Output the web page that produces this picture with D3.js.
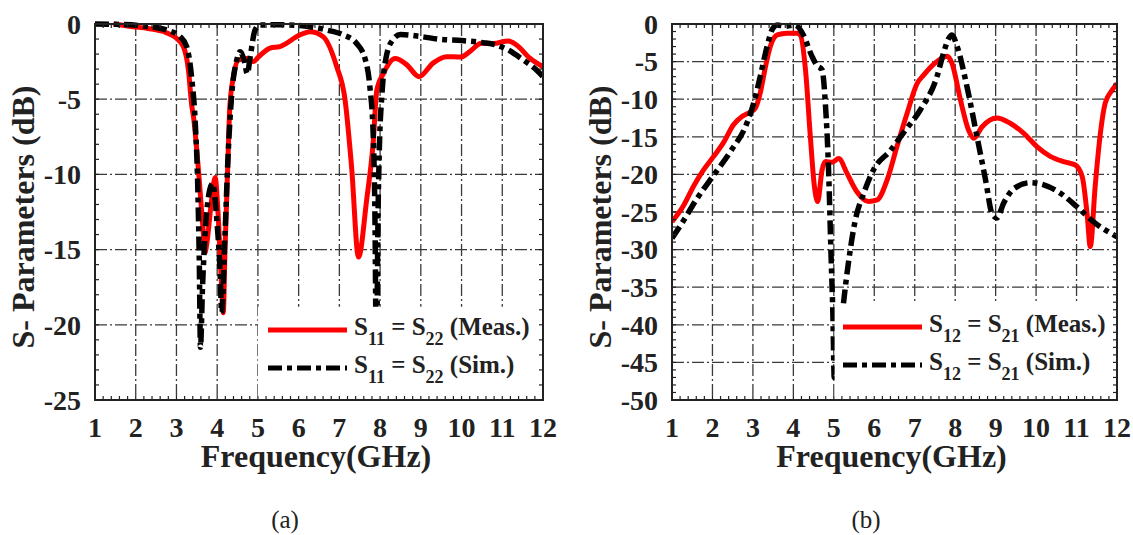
<!DOCTYPE html>
<html>
<head>
<meta charset="utf-8">
<script src="https://cdn.jsdelivr.net/npm/d3@7"></script>
<style>
  body { margin: 0; background: #fff; }
  svg { display: block; }
  text { font-family: "Times New Roman", "Liberation Serif", serif; fill: #222; }
</style>
</head>
<body>
<svg id="chart" width="1133" height="535"></svg>
<script>
// (a) return loss, [GHz, dB]
const s11Meas = [[1.45,0],[1.93,-0.18],[2.3,-0.3],[2.67,-0.5],[3.0,-0.95],[3.17,-1.5],[3.3,-3.2],[3.37,-5.3],[3.42,-6.2],
  [3.54,-9.7],[3.66,-13.9],[3.7,-15.2],[3.75,-14.5],[3.85,-12],[3.95,-10.2],[4.02,-12.5],[4.1,-17],[4.15,-19.2],
  [4.19,-15.2],[4.27,-8.6],[4.31,-5.5],[4.4,-3.5],[4.52,-2.4],[4.72,-2.3],[4.89,-2.5],[5.01,-2.2],[5.3,-1.6],
  [5.54,-1.5],[6.03,-0.73],[6.28,-0.51],[6.6,-0.84],[6.93,-2.8],[7.14,-5.05],[7.3,-9.5],[7.47,-15.5],[7.67,-11.7],
  [7.83,-7.9],[7.92,-4.4],[8.08,-3.3],[8.37,-2.3],[8.65,-2.7],[8.96,-3.5],[9.3,-2.6],[9.63,-2.17],[9.98,-2.2],
  [10.2,-1.84],[10.49,-1.28],[10.78,-1.3],[11.15,-1.13],[11.35,-1.4],[11.68,-2.28],[12,-2.84]];
const s11Sim = [[1,0],[1.5,-0.02],[2.19,-0.13],[2.76,-0.4],[3.09,-0.84],[3.25,-1.5],[3.37,-3.5],[3.47,-7],[3.52,-10.5],
  [3.56,-15.7],[3.59,-21.5],[3.64,-17.5],[3.7,-14.1],[3.82,-11.0],[3.89,-10.6],[3.99,-13],[4.07,-16.4],[4.11,-19.2],
  [4.19,-14.1],[4.27,-8.6],[4.36,-4.6],[4.48,-2.4],[4.56,-1.84],[4.66,-2.4],[4.74,-3.3],[4.81,-2.2],[4.93,-0.4],
  [5.05,-0.07],[5.5,-0.05],[6.28,-0.18],[6.69,-0.4],[7.1,-0.73],[7.42,-1.28],[7.63,-2.3],[7.75,-4.2],[7.83,-7.3],
  [7.87,-12],[7.91,-22],[7.95,-12.5],[7.98,-8.5],[8.05,-4.5],[8.15,-2.2],[8.3,-1.1],[8.5,-0.7],[9.02,-0.84],
  [9.47,-1.02],[10.0,-1.1],[10.53,-1.24],[10.86,-1.4],[11.15,-1.73],[11.52,-2.4],[11.84,-3.06],[12,-3.5]];

// (b) insertion loss, [GHz, dB]
const s21Meas = [[1,-26.3],[1.29,-24.1],[1.53,-21.6],[1.78,-19.4],[2.03,-17.6],[2.28,-15.7],[2.52,-13.4],[2.73,-12.3],
  [2.94,-11.7],[3.06,-11.2],[3.18,-9.2],[3.31,-5.7],[3.43,-3.0],[3.6,-1.46],[3.84,-1.24],[4.09,-1.24],[4.17,-1.46],
  [4.3,-6.1],[4.42,-15],[4.52,-21.6],[4.6,-23.6],[4.71,-19.4],[4.79,-18.3],[4.96,-18.4],[5.12,-17.9],[5.33,-19.9],
  [5.57,-22.3],[5.86,-23.6],[6.07,-23.4],[6.32,-20.7],[6.56,-16.3],[6.81,-11.9],[7.06,-7.9],[7.22,-6.8],[7.55,-5.0],
  [7.8,-4.3],[7.92,-5.2],[8.13,-10.1],[8.33,-14.1],[8.46,-15.2],[8.66,-13.7],[9.03,-12.5],[9.36,-13.2],[9.69,-14.5],
  [10.02,-16.3],[10.35,-17.6],[10.68,-18.3],[10.97,-18.75],[11.14,-20.3],[11.26,-25.2],[11.34,-29.6],[11.46,-21.6],
  [11.59,-14.5],[11.71,-10.5],[11.88,-8.8],[12,-7.9]];
const s21Sim = [[1,-28.5],[1.29,-26.1],[1.62,-23.2],[2.03,-20.1],[2.44,-17.0],[2.85,-13.2],[3.02,-10.5],[3.18,-7.0],
  [3.35,-3.0],[3.47,-0.8],[3.6,-0.13],[3.8,-0.3],[4.0,-0.13],[4.1,-0.3],[4.25,-1.5],[4.46,-4.3],[4.58,-5.5],[4.71,-6.1],
  [4.79,-10.5],[4.87,-19.4],[4.93,-30.5],[4.98,-39.4],[5.01,-47],[5.1,-45],[5.24,-37.1],[5.37,-31.4],[5.53,-26.1],
  [5.74,-22.5],[5.98,-19.4],[6.4,-16.8],[6.73,-14.4],[7.14,-11.4],[7.55,-7.0],[7.71,-3.9],[7.84,-1.9],[7.92,-1.46],
  [8.05,-3.0],[8.29,-8.3],[8.54,-15.0],[8.75,-20.7],[8.91,-25.2],[9.03,-25.8],[9.2,-23.8],[9.45,-21.9],[9.86,-21.1],
  [10.19,-21.4],[10.6,-22.5],[11.01,-24.3],[11.42,-26.3],[12,-28.3]];

const freqTicks = [1,2,3,4,5,6,7,8,9,10,11,12];
const dbTicksA = [0,-5,-10,-15,-20,-25];
const dbTicksB = [0,-5,-10,-15,-20,-25,-30,-35,-40,-45,-50];

const svg = d3.select("#chart");
const simDash = "14,5,5,5";

function panel(cfg) {
  const x = d3.scaleLinear().domain([1, 12]).range([cfg.left, cfg.right]);
  const y = d3.scaleLinear().domain([0, cfg.yMin]).range([cfg.top, cfg.bottom]);
  const g = svg.append("g");

  // dash-dot grid
  const grid = g.append("g")
    .attr("stroke", "#3a3a3a").attr("stroke-width", 1.3).attr("stroke-dasharray", "12,3,2,3");
  grid.selectAll(".gx").data(freqTicks.slice(1, -1)).join("line")
    .attr("x1", d => x(d)).attr("x2", d => x(d)).attr("y1", cfg.top).attr("y2", cfg.bottom);
  grid.selectAll(".gy").data(cfg.yTicks.slice(1, -1)).join("line")
    .attr("y1", d => y(d)).attr("y2", d => y(d)).attr("x1", cfg.left).attr("x2", cfg.right);

  // curves
  const clipId = "clip" + cfg.name;
  svg.append("clipPath").attr("id", clipId).append("rect")
    .attr("x", cfg.left).attr("y", cfg.top - 3)
    .attr("width", cfg.right - cfg.left).attr("height", cfg.bottom - cfg.top + 3);
  const line = d3.line()
    .x(d => x(d[0])).y(d => y(d[1]))
    .curve(d3.curveMonotoneX);
  const curves = g.append("g").attr("clip-path", `url(#${clipId})`).attr("fill", "none");
  curves.append("path").datum(cfg.meas).attr("d", line)
    .attr("stroke", "#ff0000").attr("stroke-width", 5).attr("stroke-linejoin", "round");
  curves.append("path").datum(cfg.sim).attr("d", line)
    .attr("stroke", "#000").attr("stroke-width", 5.5).attr("stroke-dasharray", simDash);

  // legend box (white, no border) sits over grid and curves
  const boxX = x(cfg.legendFrom), boxY = y(cfg.legendTop);
  g.append("rect")
    .attr("x", boxX).attr("y", boxY)
    .attr("width", cfg.right - boxX).attr("height", cfg.bottom - boxY)
    .attr("fill", "#fff");
  const lg = g.append("g");
  cfg.legend.forEach((item, i) => {
    const ly = cfg.legendY + i * 38;
    lg.append("line")
      .attr("x1", cfg.legendX).attr("x2", cfg.legendX + 79).attr("y1", ly).attr("y2", ly)
      .attr("stroke", item.color).attr("stroke-width", 5)
      .attr("stroke-dasharray", item.dash);
    const t = lg.append("text")
      .attr("x", cfg.legendX + 86).attr("y", ly + 5)
      .attr("font-size", 25).attr("font-weight", "bold");
    t.append("tspan").text("S");
    t.append("tspan").attr("font-size", 18).attr("dy", 10).text(item.a);
    t.append("tspan").attr("dy", -10).text(" = S");
    t.append("tspan").attr("font-size", 18).attr("dy", 10).text(item.b);
    t.append("tspan").attr("dy", -10).text(" " + item.tag);
  });

  // inward minor ticks on all four sides
  const minorX = d3.range(1, 12.001, 0.2);
  const minorY = d3.range(0, cfg.yMin - 0.001, -1);
  const ticks = g.append("g").attr("stroke", "#222").attr("stroke-width", 1.2);
  ticks.selectAll(".mb").data(minorX).join("line")
    .attr("x1", d => x(d)).attr("x2", d => x(d)).attr("y1", cfg.bottom).attr("y2", cfg.bottom - 4);
  ticks.selectAll(".mt").data(minorX).join("line")
    .attr("x1", d => x(d)).attr("x2", d => x(d)).attr("y1", cfg.top).attr("y2", cfg.top + 4);
  ticks.selectAll(".ml").data(minorY).join("line")
    .attr("y1", d => y(d)).attr("y2", d => y(d)).attr("x1", cfg.left).attr("x2", cfg.left + 4);
  ticks.selectAll(".mr").data(minorY).join("line")
    .attr("y1", d => y(d)).attr("y2", d => y(d)).attr("x1", cfg.right).attr("x2", cfg.right - 4);

  // frame
  g.append("rect")
    .attr("x", cfg.left).attr("y", cfg.top)
    .attr("width", cfg.right - cfg.left).attr("height", cfg.bottom - cfg.top)
    .attr("fill", "none").attr("stroke", "#222").attr("stroke-width", 2);

  // tick labels
  g.selectAll(".xl").data(freqTicks).join("text")
    .attr("x", d => x(d)).attr("y", cfg.bottom + 37)
    .attr("text-anchor", "middle").attr("font-size", 28).attr("font-weight", "bold")
    .text(d => d);
  g.selectAll(".yl").data(cfg.yTicks).join("text")
    .attr("x", cfg.left - 14).attr("y", d => y(d)).attr("dy", "0.35em")
    .attr("text-anchor", "end").attr("font-size", 28).attr("font-weight", "bold")
    .text(d => d);

  // axis titles
  g.append("text")
    .attr("x", (cfg.left + cfg.right) / 2 - 3).attr("y", 467)
    .attr("text-anchor", "middle").attr("font-size", 32).attr("font-weight", "bold")
    .text("Frequency(GHz)");
  g.append("text")
    .attr("transform", `translate(${cfg.left - 61},217) rotate(-90)`)
    .attr("text-anchor", "middle").attr("font-size", 32).attr("font-weight", "bold")
    .text("S- Parameters (dB)");

  // panel caption
  g.append("text")
    .attr("x", cfg.captionX).attr("y", 528)
    .attr("text-anchor", "middle").attr("font-size", 25)
    .text(cfg.caption);
}

panel({
  name: "a", left: 95, right: 543, top: 24, bottom: 400, yMin: -25, yTicks: dbTicksA,
  meas: s11Meas, sim: s11Sim, legendFrom: 5, legendTop: -18.8,
  legendX: 268, legendY: 330, captionX: 285, caption: "(a)",
  legend: [
    { color: "#ff0000", dash: null, a: "11", b: "22", tag: "(Meas.)" },
    { color: "#000", dash: simDash, a: "11", b: "22", tag: "(Sim.)" }
  ]
});

panel({
  name: "b", left: 672, right: 1117, top: 24, bottom: 400, yMin: -50, yTicks: dbTicksB,
  meas: s21Meas, sim: s21Sim, legendFrom: 5.02, legendTop: -37.2,
  legendX: 843, legendY: 327, captionX: 866, caption: "(b)",
  legend: [
    { color: "#ff0000", dash: null, a: "12", b: "21", tag: "(Meas.)" },
    { color: "#000", dash: simDash, a: "12", b: "21", tag: "(Sim.)" }
  ]
});
</script>
</body>
</html>
